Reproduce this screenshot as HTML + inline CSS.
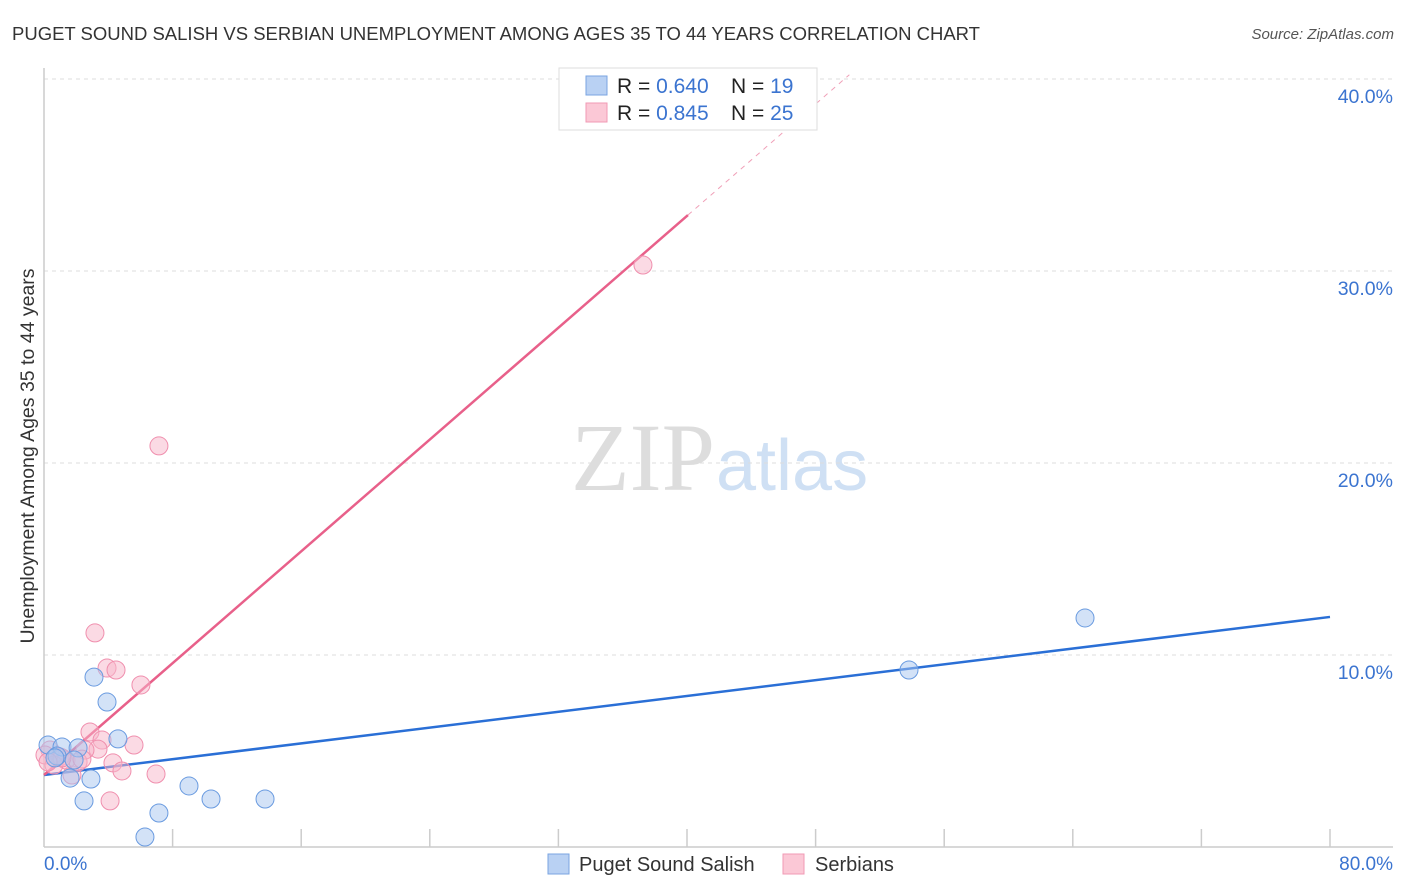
<!DOCTYPE html>
<html><head><meta charset="utf-8"><style>
body{margin:0;background:#fff;font-family:"Liberation Sans",sans-serif;}
#wrap{position:relative;width:1406px;height:892px;overflow:hidden;}
</style></head><body>
<div id="wrap">
<svg id="svg" width="1406" height="892" xmlns="http://www.w3.org/2000/svg">
<text x="12" y="40" font-size="18" fill="#333" textLength="968" lengthAdjust="spacingAndGlyphs">PUGET SOUND SALISH VS SERBIAN UNEMPLOYMENT AMONG AGES 35 TO 44 YEARS CORRELATION CHART</text>
<text x="1394" y="39" font-size="15" fill="#555" font-style="italic" text-anchor="end">Source: ZipAtlas.com</text>
<text x="715" y="490" font-size="96" fill="#ddd" text-anchor="end" font-family="Liberation Serif,serif">ZIP</text>
<text x="716" y="490" font-size="72" fill="#cfe0f4">atlas</text>
<g id="grid"></g>
<line x1="44" y1="68" x2="44" y2="847" stroke="#ccc" stroke-width="1.5"/>
<line x1="44" y1="847" x2="1393" y2="847" stroke="#ccc" stroke-width="1.5"/>
<g id="ticks"></g>
<g id="lines"></g>
<g id="pts"></g>
<text transform="translate(34,456) rotate(-90)" font-size="19.5" fill="#333" text-anchor="middle">Unemployment Among Ages 35 to 44 years</text>
<text x="44" y="870" font-size="19" fill="#3b74d0">0.0%</text>
<text x="1393" y="870" font-size="19" fill="#3b74d0" text-anchor="end">80.0%</text>
<g>
<rect x="559" y="68" width="258" height="62" fill="#fff" stroke="#ddd"/>
<rect x="586" y="76" width="21" height="19" fill="#b9d1f3" stroke="#7aa4e2"/>
<rect x="586" y="103" width="21" height="19" fill="#fbc8d6" stroke="#f09ab4"/>
<text x="617" y="93" font-size="21" fill="#222">R = <tspan fill="#3b74d0">0.640</tspan></text>
<text x="731" y="93" font-size="21" fill="#222">N = <tspan fill="#3b74d0"> 19</tspan></text>
<text x="617" y="120" font-size="21" fill="#222">R = <tspan fill="#3b74d0"> 0.845</tspan></text>
<text x="731" y="120" font-size="21" fill="#222">N = <tspan fill="#3b74d0">25</tspan></text>
</g>
<g>
<rect x="548" y="854" width="21" height="20" fill="#b9d1f3" stroke="#7aa4e2"/>
<text x="579" y="871" font-size="20" fill="#333">Puget Sound Salish</text>
<rect x="783" y="854" width="21" height="20" fill="#fbc8d6" stroke="#f09ab4"/>
<text x="815" y="871" font-size="20" fill="#333">Serbians</text>
</g>
</svg>
</div>
<script>
const yTicks=[10,20,30,40];
const yTickLabels=["10.0%","20.0%","30.0%","40.0%"];
const xTickVals=[8,16,24,32,40,48,56,64,72,80];
const blueX=[0.25,1.12,0.81,2.12,3.11,3.92,4.60,2.92,2.49,1.62,7.15,9.02,10.39,13.75,6.28,53.81,64.76,1.87,0.68];
const blueY=[5.31,5.21,4.74,5.16,8.85,7.55,5.63,3.54,2.40,3.59,1.77,3.18,2.50,2.50,0.52,9.22,11.93,4.53,4.64];
const pinkX=[7.15,37.26,3.17,3.92,4.48,6.03,2.86,3.61,3.36,5.60,2.55,4.29,4.85,6.97,4.11,1.74,0.37,1.00,1.37,2.12,0.06,0.62,1.12,0.25,2.36];
const pinkY=[20.89,30.31,11.15,9.32,9.22,8.44,5.99,5.57,5.10,5.31,5.05,4.38,3.96,3.80,2.40,3.75,5.05,4.69,4.53,4.43,4.79,4.27,4.64,4.43,4.58];
const blueFit=[3.75,0.1029];
const pinkFit=[3.75,0.728];
const pinkSolidEnd=40.06, pinkDashEnd=50.1;

const NS="http://www.w3.org/2000/svg";
const X=v=>44+v*(1286/80);
const Y=v=>847-v*19.2;
function mk(tag,attrs,parent){const e=document.createElementNS(NS,tag);for(const k in attrs)e.setAttribute(k,attrs[k]);document.getElementById(parent).appendChild(e);return e;}

yTicks.forEach((t,i)=>{
 const g=mk('line',{x1:44,x2:1393,y1:Y(t),y2:Y(t),stroke:'#ddd','stroke-dasharray':'4,4'},'grid');
 
 
 const l=mk('text',{x:1393,y:Y(t)+24,'font-size':19.5,fill:'#3b74d0','text-anchor':'end'},'grid');
 l.textContent=yTickLabels[i];
 
 
});
xTickVals.forEach(t=>{
 const e=mk('line',{x1:X(t),x2:X(t),y1:829,y2:847,stroke:'#ccc','stroke-width':1.5},'ticks');
 
 
});
let e=mk('line',{x1:X(0),y1:Y(blueFit[0]),x2:X(80),y2:Y(blueFit[0]+blueFit[1]*80),stroke:'#2a6fd6','stroke-width':2.5},'lines');


e=mk('line',{x1:X(0),y1:Y(pinkFit[0]),x2:X(pinkSolidEnd),y2:Y(pinkFit[0]+pinkFit[1]*pinkSolidEnd),stroke:'#e8608a','stroke-width':2.5},'lines');


e=mk('line',{x1:X(pinkSolidEnd),y1:Y(pinkFit[0]+pinkFit[1]*pinkSolidEnd),x2:X(pinkDashEnd),y2:Y(pinkFit[0]+pinkFit[1]*pinkDashEnd),stroke:'#f0a0b8','stroke-width':1,'stroke-dasharray':'5,5'},'lines');


pinkX.forEach((x,i)=>{
 const c=mk('circle',{cx:X(x),cy:Y(pinkY[i]),r:9,fill:'rgba(248,182,202,0.5)',stroke:'#f08fae','stroke-width':1},'pts');
 
 
});
blueX.forEach((x,i)=>{
 const c=mk('circle',{cx:X(x),cy:Y(blueY[i]),r:9,fill:'rgba(168,198,240,0.5)',stroke:'#6a9be0','stroke-width':1},'pts');
 
 
});
</script>
</body></html>
